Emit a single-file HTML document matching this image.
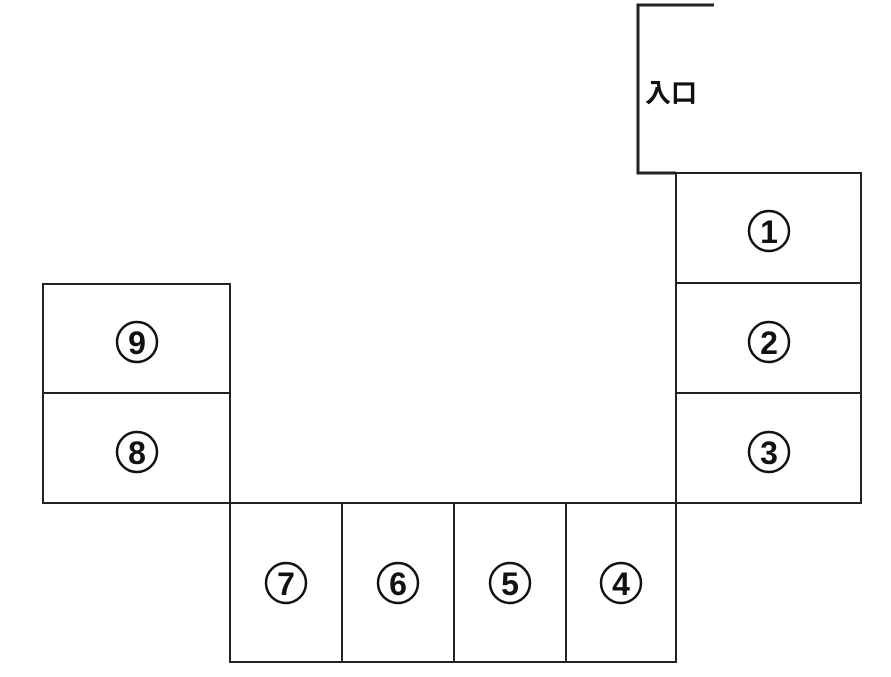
<!DOCTYPE html>
<html><head><meta charset="utf-8"><style>
html,body{margin:0;padding:0;background:#fff;width:891px;height:677px;overflow:hidden}
</style></head><body>
<svg width="891" height="677" xmlns="http://www.w3.org/2000/svg">
<g fill="none" stroke="#222" stroke-width="2">
<polyline points="714,5 638,5 638,173 676,173" stroke-width="3"/>
<rect x="676" y="173" width="185" height="330"/>
<line x1="676" y1="283" x2="861" y2="283"/>
<line x1="676" y1="393" x2="861" y2="393"/>
<rect x="43" y="284" width="187" height="219"/>
<line x1="43" y1="393" x2="230" y2="393"/>
<rect x="230" y="503" width="446" height="159"/>
<line x1="342" y1="503" x2="342" y2="662"/>
<line x1="454" y1="503" x2="454" y2="662"/>
<line x1="566" y1="503" x2="566" y2="662"/>
</g>
<g fill="none" stroke="#111" stroke-width="2.5">
<circle cx="769" cy="231" r="20"/>
<circle cx="769" cy="342" r="20"/>
<circle cx="769" cy="452" r="20"/>
<circle cx="621" cy="583" r="20"/>
<circle cx="510" cy="583" r="20"/>
<circle cx="398" cy="583" r="20"/>
<circle cx="286" cy="583" r="20"/>
<circle cx="137" cy="452" r="20"/>
<circle cx="137" cy="342" r="20"/>
</g>
<g font-family="'Liberation Sans',sans-serif" font-size="32" fill="#111" text-anchor="middle" font-weight="bold">
<text x="769" y="243">1</text>
<text x="769" y="354">2</text>
<text x="769" y="464">3</text>
<text x="621" y="595">4</text>
<text x="510" y="595">5</text>
<text x="398" y="595">6</text>
<text x="286" y="595">7</text>
<text x="137" y="464">8</text>
<text x="137" y="354">9</text>
</g>
<text x="645" y="102" font-family="'Liberation Sans','Noto Sans CJK JP',sans-serif" font-size="26" font-weight="bold" fill="#111">入口</text>
</svg>
</body></html>
